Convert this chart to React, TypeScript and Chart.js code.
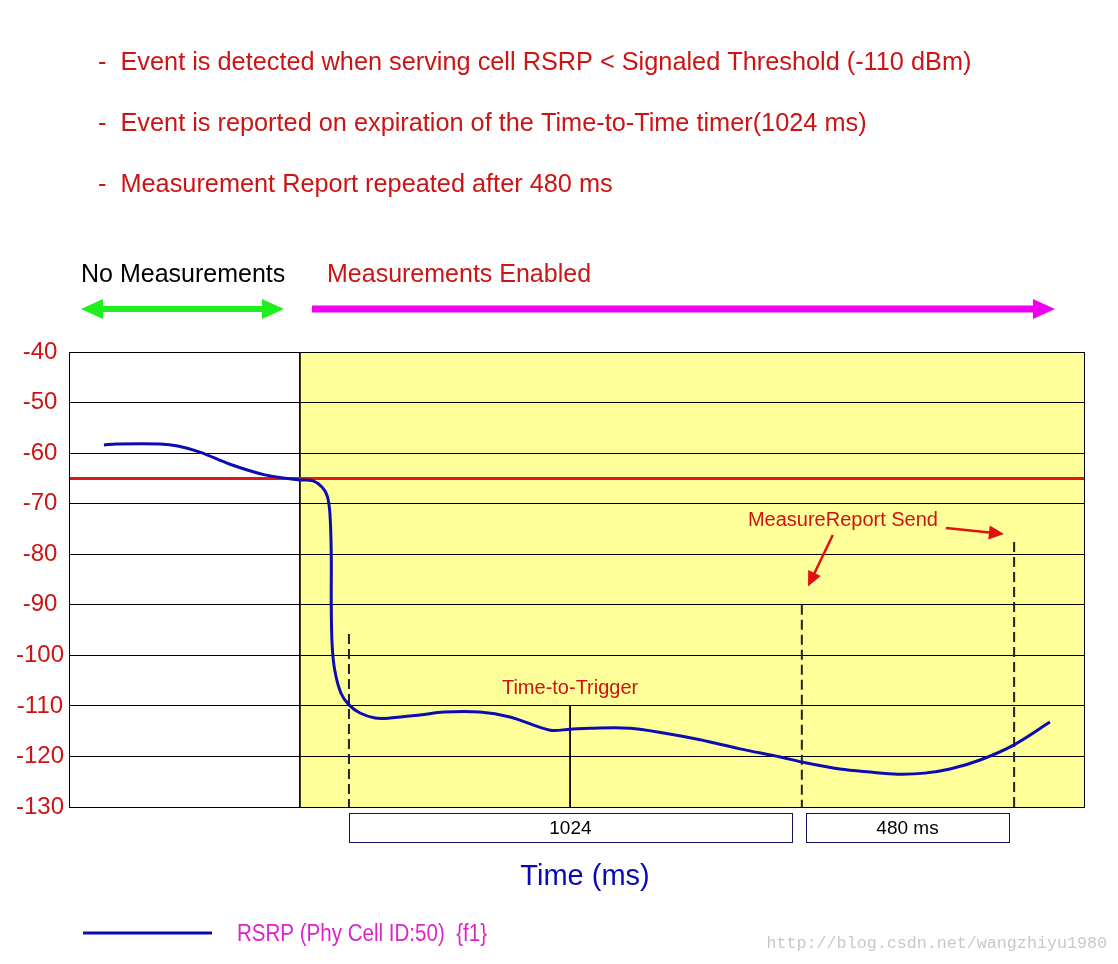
import React, { useEffect, useRef } from "react";
import { Chart, registerables } from "chart.js";

Chart.register(...registerables);

// ---- data ----
const timeMs = [79, 108, 206, 246, 296, 364, 443, 522, 552, 572, 584, 590, 593, 593, 595, 601, 615, 633, 658, 692, 726, 794, 848, 929, 997, 1088, 1133, 1178, 1268, 1348, 1427, 1517, 1608, 1657, 1743, 1811, 1874, 1935, 1992, 2060, 2137, 2218];
const rsrpDbm = [-58.4, -58.2, -58.2, -58.6, -59.8, -62.2, -64.3, -65.3, -65.5, -66.7, -68.5, -72, -80, -90, -98, -103, -107.5, -109.8, -111.4, -112.4, -112.4, -111.8, -111.2, -111.2, -112.2, -114.8, -114.6, -114.4, -114.4, -115.4, -116.7, -118.5, -120.1, -121.1, -122.5, -123.1, -123.5, -123.3, -122.5, -120.7, -117.7, -113.2];
const thresholdDbm = -65;
const enableTimeMs = 522;
const tttStartMs = 633;
const tttDurationMs = 1024;
const repeatMs = 480;
const tttMarkMs = 1133;
const reportTimesMs = [tttStartMs, tttStartMs + tttDurationMs, tttStartMs + tttDurationMs + repeatMs];
const dashTopsDbm = [-95.8, -90, -77.6];
const yMin = -130;
const yMax = -40;
const yStep = 10;
const xMin = 0;
const xMax = 2295;
const seriesLabel = "RSRP (Phy Cell ID:50)  {f1}";
const headerLines = [
  "-  Event is detected when serving cell RSRP < Signaled Threshold (-110 dBm)",
  "-  Event is reported on expiration of the Time-to-Time timer(1024 ms)",
  "-  Measurement Report repeated after 480 ms",
];
const phaseLabels = ["No Measurements", "Measurements Enabled"];
const boxLabels = ["1024", "480 ms"];
const xTitle = "Time (ms)";
const tttLabel = "Time-to-Trigger";
const reportLabel = "MeasureReport Send";
const watermark = "http://blog.csdn.net/wangzhiyu1980";

const RED = "#cc1414";
const BLUE = "#0c0cb0";
const FONT = "Arial, 'Liberation Sans', sans-serif";

function drawArrow(
  ctx: CanvasRenderingContext2D,
  x1: number, y1: number, x2: number, y2: number,
  width: number, headLen: number, headHalf: number, color: string, both = false
) {
  const ang = Math.atan2(y2 - y1, x2 - x1);
  const cos = Math.cos(ang), sin = Math.sin(ang);
  const head = (hx: number, hy: number, dir: number) => {
    const bx = hx - dir * cos * headLen;
    const by = hy - dir * sin * headLen;
    ctx.beginPath();
    ctx.moveTo(hx, hy);
    ctx.lineTo(bx - sin * headHalf, by + cos * headHalf);
    ctx.lineTo(bx + sin * headHalf, by - cos * headHalf);
    ctx.closePath();
    ctx.fill();
  };
  ctx.save();
  ctx.strokeStyle = color;
  ctx.fillStyle = color;
  ctx.lineWidth = width;
  ctx.beginPath();
  const sx = both ? x1 + cos * headLen * 0.8 : x1;
  const sy = both ? y1 + sin * headLen * 0.8 : y1;
  ctx.moveTo(sx, sy);
  ctx.lineTo(x2 - cos * headLen * 0.8, y2 - sin * headLen * 0.8);
  ctx.stroke();
  head(x2, y2, 1);
  if (both) head(x1, y1, -1);
  ctx.restore();
}

const decorPlugin = {
  id: "decor",
  beforeDraw(chart: any) {
    const { ctx, chartArea, scales } = chart;
    ctx.save();
    ctx.fillStyle = "#ffffff";
    ctx.fillRect(0, 0, chart.width, chart.height);
    const xs = scales.x;
    const xe = xs.getPixelForValue(enableTimeMs);
    ctx.fillStyle = "#ffff99";
    ctx.fillRect(xe, chartArea.top, chartArea.right - xe, chartArea.bottom - chartArea.top);
    ctx.restore();
  },
  afterDraw(chart: any) {
    const { ctx, chartArea, scales } = chart;
    const xs = scales.x;
    const ys = scales.y;
    const X = (v: number) => xs.getPixelForValue(v);
    const Y = (v: number) => ys.getPixelForValue(v);
    ctx.save();
    // plot frame
    ctx.strokeStyle = "#000";
    ctx.lineWidth = 1;
    ctx.strokeRect(Math.round(chartArea.left) + 0.5, Math.round(chartArea.top) + 0.5,
      Math.round(chartArea.right - chartArea.left), Math.round(chartArea.bottom - chartArea.top));

    // header text
    ctx.fillStyle = RED;
    ctx.font = `25.3px ${FONT}`;
    ctx.textAlign = "left";
    ctx.textBaseline = "middle";
    headerLines.forEach((t, i) => ctx.fillText(t, 98, 63 + i * 61));

    // phase labels
    ctx.font = `25px ${FONT}`;
    ctx.fillStyle = "#000";
    ctx.fillText(phaseLabels[0], 81, 275);
    ctx.fillStyle = RED;
    ctx.fillText(phaseLabels[1], 327, 275);

    // phase arrows
    drawArrow(ctx, 81, 309, 284, 309, 6, 22, 10, "#1ef01e", true);
    drawArrow(ctx, 312, 309, 1055, 309, 7, 22, 10, "#f000f0");

    // in-plot annotations
    ctx.fillStyle = RED;
    ctx.font = `20px ${FONT}`;
    ctx.textAlign = "center";
    ctx.fillText(tttLabel, X(tttMarkMs), Y(-106.5));
    ctx.textAlign = "left";
    ctx.fillText(reportLabel, X(1535), Y(-73.4));
    drawArrow(ctx, X(1727), Y(-76.2), X(1671), Y(-86.4), 2.5, 15, 7, "#e01010");
    drawArrow(ctx, X(1983), Y(-74.8), X(2114), Y(-76.0), 2.5, 15, 7, "#e01010");

    // duration boxes
    const b = chartArea.bottom;
    const boxes = [
      [X(reportTimesMs[0]), X(reportTimesMs[1]) - 10, boxLabels[0]],
      [X(reportTimesMs[1]) + 4, X(reportTimesMs[2]) - 5, boxLabels[1]],
    ] as [number, number, string][];
    ctx.font = `19px ${FONT}`;
    ctx.textAlign = "center";
    boxes.forEach(([l, r, t]) => {
      ctx.fillStyle = "#fff";
      ctx.fillRect(l, b + 6, r - l, 29);
      ctx.strokeStyle = "#101060";
      ctx.lineWidth = 1;
      ctx.strokeRect(Math.round(l) + 0.5, Math.round(b + 6) + 0.5, Math.round(r - l), 29);
      ctx.fillStyle = "#000";
      ctx.fillText(t, (l + r) / 2, b + 22);
    });

    // x title
    ctx.fillStyle = "#0a0ab4";
    ctx.font = `29px ${FONT}`;
    ctx.fillText(xTitle, 585, 877);

    // legend
    const ds = chart.data.datasets[0];
    ctx.strokeStyle = ds.borderColor;
    ctx.lineWidth = 3;
    ctx.beginPath();
    ctx.moveTo(83, 933);
    ctx.lineTo(212, 933);
    ctx.stroke();
    ctx.fillStyle = "#dd22cc";
    ctx.textAlign = "left";
    ctx.font = `23px ${FONT}`;
    const w = ctx.measureText(ds.label).width;
    ctx.save();
    ctx.translate(237, 935);
    ctx.scale(250 / w, 1);
    ctx.fillText(ds.label, 0, 0);
    ctx.restore();

    // watermark
    ctx.fillStyle = "#c8c8c8";
    ctx.font = `16.7px 'Liberation Mono', monospace`;
    ctx.textAlign = "right";
    ctx.fillText(watermark, 1107, 944);
    ctx.restore();
  },
};

export default function App() {
  const ref = useRef<HTMLCanvasElement | null>(null);
  useEffect(() => {
    if (!ref.current) return;
    const pts = timeMs.map((t, i) => ({ x: t, y: rsrpDbm[i] }));
    const dashSets = reportTimesMs.map((t, i) => ({
      label: `report${i}`,
      data: [{ x: t, y: dashTopsDbm[i] }, { x: t, y: yMin }],
      borderColor: "#222222",
      borderWidth: 2,
      borderDash: [10, 5],
      pointRadius: 0,
      showLine: true,
    }));
    const chart = new Chart(ref.current, {
      type: "scatter",
      data: {
        datasets: [
          {
            label: seriesLabel,
            data: pts,
            borderColor: BLUE,
            borderWidth: 3,
            pointRadius: 0,
            showLine: true,
            tension: 0.35,
          },
          {
            label: "threshold",
            data: [{ x: xMin, y: thresholdDbm }, { x: xMax, y: thresholdDbm }],
            borderColor: "#dd1a1a",
            borderWidth: 3,
            pointRadius: 0,
            showLine: true,
          },
          {
            label: "enable",
            data: [{ x: enableTimeMs, y: yMax }, { x: enableTimeMs, y: yMin }],
            borderColor: "#000",
            borderWidth: 1,
            pointRadius: 0,
            showLine: true,
          },
          {
            label: "tttMark",
            data: [{ x: tttMarkMs, y: -110 }, { x: tttMarkMs, y: yMin }],
            borderColor: "#000",
            borderWidth: 1,
            pointRadius: 0,
            showLine: true,
          },
          ...dashSets,
        ] as any,
      },
      options: {
        responsive: false,
        animation: false,
        events: [],
        layout: { padding: { left: 0, top: 352, right: 34, bottom: 157 } },
        plugins: { legend: { display: false }, tooltip: { enabled: false } },
        scales: {
          x: { type: "linear", min: xMin, max: xMax, display: false },
          y: {
            type: "linear",
            min: yMin,
            max: yMax,
            afterFit: (s: any) => { s.width = 69; },
            ticks: {
              stepSize: yStep,
              color: RED,
              font: { family: FONT, size: 24 },
              padding: 5,
              crossAlign: "center",
            },
            grid: { color: "#000", lineWidth: 1, drawTicks: false },
            border: { display: true, color: "#000", width: 1 },
          },
        },
      },
      plugins: [decorPlugin],
    });
    return () => chart.destroy();
  }, []);
  return (
    <div style={{ position: "absolute", left: 0, top: 0, width: 1118, height: 964, background: "#fff" }}>
      <canvas ref={ref} width={1118} height={964} style={{ display: "block" }} />
    </div>
  );
}
